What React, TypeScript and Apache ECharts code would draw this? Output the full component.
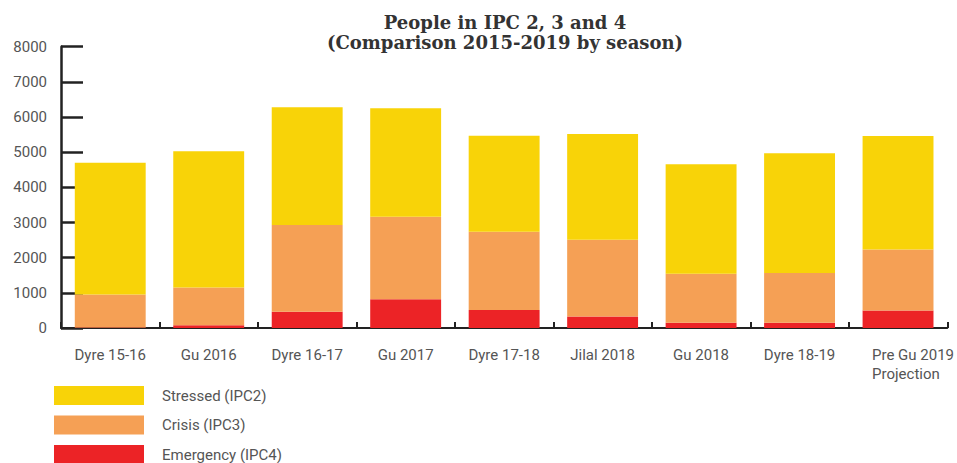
import React, { useEffect, useRef } from "react";
import * as echarts from "echarts";

const categories = [
  "Dyre 15-16",
  "Gu 2016",
  "Dyre 16-17",
  "Gu 2017",
  "Dyre 17-18",
  "Jilal 2018",
  "Gu 2018",
  "Dyre 18-19",
  "Pre Gu 2019\nProjection",
];
const emergency = [15, 75, 465, 815, 510, 330, 150, 150, 500];
const crisis = [940, 1080, 2465, 2350, 2230, 2180, 1395, 1415, 1735];
const stressed = [3745, 3875, 3345, 3085, 2730, 3005, 3110, 3405, 3225];
const yTicks = [0, 1000, 2000, 3000, 4000, 5000, 6000, 7000, 8000];

const YELLOW = "#F8D308";
const ORANGE = "#F5A055";
const RED = "#EC2326";
const DARK = "#222222";
const GRAY = "#555555";

export default function App() {
  const ref = useRef<HTMLDivElement>(null);
  useEffect(() => {
    if (!ref.current) return;
    const chart = echarts.init(ref.current, undefined, { renderer: "svg" });
    const xData = categories.map((c, i) =>
      i === categories.length - 1
        ? {
            value: c,
            textStyle: {
              padding: [0, 0, 0, 30],
            },
          }
        : c
    );
    chart.setOption({
      animation: false,
      backgroundColor: "#ffffff",
      title: {
        text: "People in IPC 2, 3 and 4\n(Comparison 2015-2019 by season)",
        left: 505,
        top: 12,
        textAlign: "center",
        padding: 0,
        textStyle: {
          fontFamily: "DejaVu Serif",
          fontWeight: "bold",
          fontSize: 18,
          lineHeight: 20,
          color: "#333333",
        },
      },
      legend: {
        orient: "vertical",
        left: 54,
        top: 386,
        height: 120,
        padding: 0,
        itemWidth: 90,
        itemHeight: 19,
        itemGap: 10.5,
        icon: "rect",
        data: ["Stressed (IPC2)", "Crisis (IPC3)", "Emergency (IPC4)"],
        textStyle: {
          fontFamily: "Roboto",
          fontSize: 15,
          color: GRAY,
          padding: [0, 0, 0, 13],
        },
        selectedMode: false,
      },
      grid: {
        left: 61,
        right: 9,
        top: 46.7,
        bottom: 135,
        containLabel: false,
      },
      xAxis: {
        type: "category",
        data: xData,
        boundaryGap: true,
        axisLine: { show: true, lineStyle: { color: DARK, width: 2 } },
        axisTick: {
          show: true,
          inside: true,
          length: 6,
          alignWithLabel: false,
          interval: 0,
          lineStyle: { color: DARK, width: 2 },
        },
        axisLabel: {
          interval: 0,
          margin: 17,
          fontFamily: "Roboto",
          fontSize: 15,
          color: GRAY,
          lineHeight: 19,
          verticalAlign: "top",
          formatter: (v: string) =>
            v.indexOf("\n") >= 0
              ? v
                  .split("\n")
                  .map((s) => "{l|" + s + "}")
                  .join("\n")
              : v,
          rich: {
            l: {
              align: "left",
              fontFamily: "Roboto",
              fontSize: 15,
              color: GRAY,
              lineHeight: 19,
            },
          },
        },
        splitLine: { show: false },
      },
      yAxis: {
        type: "value",
        min: yTicks[0],
        max: yTicks[yTicks.length - 1],
        interval: 1000,
        axisLine: { show: true, lineStyle: { color: DARK, width: 2.5 } },
        axisTick: {
          show: true,
          inside: true,
          length: 22,
          lineStyle: { color: DARK, width: 2.5 },
        },
        axisLabel: {
          margin: 14,
          fontFamily: "Roboto",
          fontSize: 15,
          color: GRAY,
          formatter: (v: number) => String(v),
        },
        splitLine: { show: false },
      },
      series: [
        {
          name: "Emergency (IPC4)",
          type: "bar",
          stack: "total",
          data: emergency,
          barWidth: "72%",
          itemStyle: { color: RED },
          z: 3,
        },
        {
          name: "Crisis (IPC3)",
          type: "bar",
          stack: "total",
          data: crisis,
          barWidth: "72%",
          itemStyle: { color: ORANGE },
          z: 3,
        },
        {
          name: "Stressed (IPC2)",
          type: "bar",
          stack: "total",
          data: stressed,
          barWidth: "72%",
          itemStyle: { color: YELLOW },
          z: 3,
        },
      ],
    });
    return () => chart.dispose();
  }, []);
  return (
    <div
      ref={ref}
      style={{ width: 957, height: 463, position: "absolute", left: 0, top: 0 }}
    />
  );
}
